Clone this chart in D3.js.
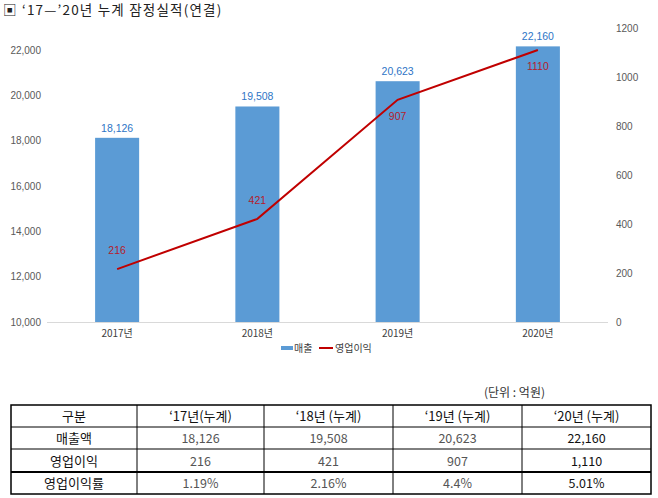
<!DOCTYPE html>
<html>
<head>
<meta charset="utf-8">
<script src="https://cdn.jsdelivr.net/npm/d3@7"></script>
<style>
  body { margin: 0; background: #fff; }
  text { font-family: "Noto Sans CJK KR", "Noto Sans", sans-serif; }
</style>
</head>
<body>
<script>
var years = ["2017년", "2018년", "2019년", "2020년"];
var sales = [18126, 19508, 20623, 22160];
var profit = [216, 421, 907, 1110];
var profitLabelSide = ["above", "above", "below", "below"];
var leftTicks = [10000, 12000, 14000, 16000, 18000, 20000, 22000];
var rightTicks = [0, 200, 400, 600, 800, 1000, 1200];

var tableHeader = ["구분", "‘17년(누계)", "‘18년 (누계)", "‘19년 (누계)", "‘20년 (누계)"];
var rowNames = ["매출액", "영업이익", "영업이익률"];
var salesText = ["18,126", "19,508", "20,623", "22,160"];
var profitText = ["216", "421", "907", "1,110"];
var marginText = ["1.19%", "2.16%", "4.4%", "5.01%"];

var width = 658,
    height = 498;

var svg = d3.select("body").append("svg")
    .attr("width", width)
    .attr("height", height);

// title
svg.append("text")
    .attr("x", 3).attr("y", 15)
    .attr("font-size", 13.5).attr("fill", "#222")
    .attr("letter-spacing", 1.2)
    .text("▣ ‘17—’20년 누계 잠정실적(연결)");

var plotLeft = 47, plotRight = 608, plotBottom = 322;

var x = d3.scaleBand()
    .domain(years)
    .range([plotLeft, plotRight])
    .paddingInner(0.686)
    .paddingOuter(0.343);

var yLeft = d3.scaleLinear().domain([10000, 22000]).range([plotBottom, 50]);
var yRight = d3.scaleLinear().domain([0, 1200]).range([plotBottom, 28]);

// left axis
var leftAxis = svg.append("g")
    .attr("transform", "translate(" + 41 + ",0)")
    .call(d3.axisLeft(yLeft).tickValues(leftTicks).tickFormat(d3.format(",")).tickSize(0).tickPadding(0));
leftAxis.select(".domain").remove();
leftAxis.selectAll("text").attr("font-size", 10).attr("fill", "#595959")
    .style("font-family", "Arial, 'Liberation Sans', sans-serif");

// right axis
var rightAxis = svg.append("g")
    .attr("transform", "translate(" + 616 + ",0)")
    .call(d3.axisRight(yRight).tickValues(rightTicks).tickFormat(d3.format("d")).tickSize(0).tickPadding(0));
rightAxis.select(".domain").remove();
rightAxis.selectAll("text").attr("font-size", 10).attr("fill", "#595959")
    .style("font-family", "Arial, 'Liberation Sans', sans-serif");

// bars
svg.selectAll(".bar")
    .data(sales)
    .enter()
    .append("rect")
    .attr("class", "bar")
    .attr("x", function(d, i) { return x(years[i]); })
    .attr("y", function(d) { return yLeft(d); })
    .attr("width", x.bandwidth())
    .attr("height", function(d) { return plotBottom - yLeft(d); })
    .attr("fill", "#5b9bd5");

// baseline
svg.append("line")
    .attr("x1", plotLeft).attr("x2", plotRight)
    .attr("y1", plotBottom + 0.5).attr("y2", plotBottom + 0.5)
    .attr("stroke", "#d9d9d9");

// bar labels
svg.selectAll(".barlabel")
    .data(sales)
    .enter()
    .append("text")
    .attr("x", function(d, i) { return x(years[i]) + x.bandwidth() / 2; })
    .attr("y", function(d) { return yLeft(d) - 6; })
    .attr("text-anchor", "middle")
    .attr("font-size", 10.5)
    .attr("fill", "#2e75c6")
    .style("font-family", "Arial, 'Liberation Sans', sans-serif")
    .text(d3.format(","));

// profit line
var line = d3.line()
    .x(function(d, i) { return x(years[i]) + x.bandwidth() / 2; })
    .y(function(d) { return yRight(d); });

svg.append("path")
    .datum(profit)
    .attr("d", line)
    .attr("fill", "none")
    .attr("stroke", "#c00000")
    .attr("stroke-width", 2);

svg.selectAll(".linelabel")
    .data(profit)
    .enter()
    .append("text")
    .attr("x", function(d, i) { return x(years[i]) + x.bandwidth() / 2; })
    .attr("y", function(d, i) { return profitLabelSide[i] == "above" ? yRight(d) - 15 : yRight(d) + 20; })
    .attr("text-anchor", "middle")
    .attr("font-size", 10.5)
    .attr("fill", "#b51c2b")
    .style("font-family", "Arial, 'Liberation Sans', sans-serif")
    .text(function(d) { return d; });

// x labels
svg.selectAll(".xlabel")
    .data(years)
    .enter()
    .append("text")
    .attr("x", function(d) { return x(d) + x.bandwidth() / 2; })
    .attr("y", 337)
    .attr("text-anchor", "middle")
    .attr("font-size", 10)
    .attr("fill", "#404040")
    .text(function(d) { return d; });

// legend
var legend = svg.append("g");
legend.append("rect").attr("x", 281).attr("y", 346).attr("width", 12).attr("height", 4).attr("fill", "#5b9bd5");
legend.append("text").attr("x", 294).attr("y", 352).attr("font-size", 10).attr("fill", "#404040").text("매출");
legend.append("line").attr("x1", 319).attr("x2", 333).attr("y1", 348).attr("y2", 348)
    .attr("stroke", "#c00000").attr("stroke-width", 2);
legend.append("text").attr("x", 335).attr("y", 352).attr("font-size", 10).attr("fill", "#404040").text("영업이익");

// table
svg.append("text")
    .attr("x", 545).attr("y", 397)
    .attr("text-anchor", "end")
    .attr("font-size", 12).attr("fill", "#333")
    .text("(단위 : 억원)");

var colEdges = [11, 137, 264, 393, 522, 651];
var rowEdges = [405, 427, 449, 472, 494];
var tableRows = [tableHeader,
    [rowNames[0]].concat(salesText),
    [rowNames[1]].concat(profitText),
    [rowNames[2]].concat(marginText)];

var tbl = svg.append("g");
tbl.append("rect")
    .attr("x", colEdges[0]).attr("y", rowEdges[0])
    .attr("width", colEdges[5] - colEdges[0]).attr("height", rowEdges[4] - rowEdges[0])
    .attr("fill", "none").attr("stroke", "#000").attr("stroke-width", 1.5);

rowEdges.slice(1, 4).forEach(function(r, i) {
    tbl.append("line")
        .attr("x1", colEdges[0]).attr("x2", colEdges[5])
        .attr("y1", r).attr("y2", r)
        .attr("stroke", "#000").attr("stroke-width", i == 2 ? 2 : 1);
});
colEdges.slice(1, 5).forEach(function(c) {
    tbl.append("line")
        .attr("x1", c).attr("x2", c)
        .attr("y1", rowEdges[0]).attr("y2", rowEdges[4])
        .attr("stroke", "#000").attr("stroke-width", 1);
});

tableRows.forEach(function(row, ri) {
    row.forEach(function(cell, ci) {
        var light = ri > 0 && ci > 0 && ci < 4;
        tbl.append("text")
            .attr("x", (colEdges[ci] + colEdges[ci + 1]) / 2)
            .attr("y", (rowEdges[ri] + rowEdges[ri + 1]) / 2 + 5)
            .attr("text-anchor", "middle")
            .attr("font-size", ri == 0 || ci == 0 ? 13 : 12.5)
            .attr("fill", light ? "#555" : "#111")
            .text(cell);
    });
});
</script>
</body>
</html>
